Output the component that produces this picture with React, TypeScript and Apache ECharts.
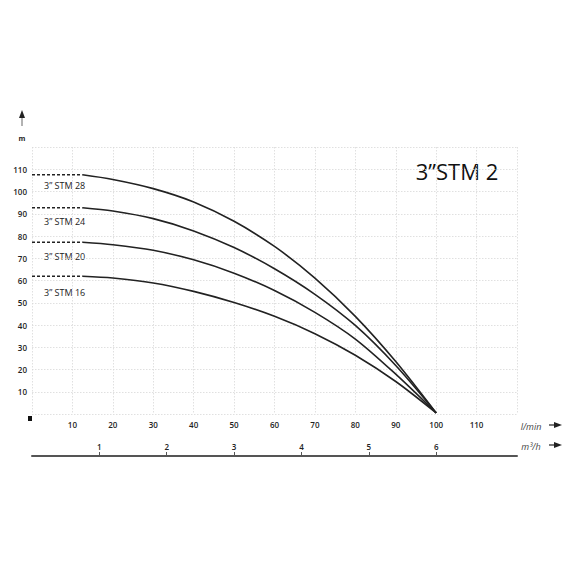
import React, { useEffect, useRef } from "react";
import * as echarts from "echarts";

const flowLmin = [12.5, 20, 30, 40, 50, 60, 70, 80, 90, 100];
const stm28 = [107.5, 105.4, 101.3, 95.3, 86.6, 75.3, 61.1, 43.9, 23.6, 0.5];
const stm24 = [92.7, 91.2, 87.8, 82.3, 74.8, 65.3, 53.8, 39.8, 21.8, 0.5];
const stm20 = [77.2, 76.1, 73.6, 69.3, 63.3, 55.5, 45.7, 33.7, 17.9, 0.5];
const stm16 = [61.9, 61.1, 58.9, 55.1, 50.1, 43.9, 36.1, 26.4, 14.6, 0.5];
const curveNames = ["3\u201d STM 28", "3\u201d STM 24", "3\u201d STM 20", "3\u201d STM 16"];
const flowTicks = [10, 20, 30, 40, 50, 60, 70, 80, 90, 100, 110];
const headTicks = [10, 20, 30, 40, 50, 60, 70, 80, 90, 100, 110];
const m3hTicks = [1, 2, 3, 4, 5, 6];
const title = "3\u201dSTM 2";

export default function App() {
  const ref = useRef<HTMLDivElement>(null);
  useEffect(() => {
    if (!ref.current) return;
    const chart = echarts.init(ref.current, null, { renderer: "svg" });
    const curves = [stm28, stm24, stm20, stm16];
    const lineColor = "#222";
    const font = "Open Sans";
    const series: any[] = [];
    curves.forEach((c, i) => {
      series.push({
        type: "line",
        name: curveNames[i],
        data: flowLmin.map((q, k) => [q, c[k]]),
        smooth: 0.3,
        showSymbol: false,
        symbol: "none",
        lineStyle: { color: lineColor, width: 1.6 },
        xAxisIndex: 0,
        yAxisIndex: 0,
      });
      series.push({
        type: "line",
        data: [[0, c[0]], [flowLmin[0], c[0]]],
        showSymbol: false,
        symbol: "none",
        lineStyle: { color: lineColor, width: 1.4, type: [3, 2] },
        xAxisIndex: 0,
        yAxisIndex: 0,
      });
    });
    const labelYs = [185, 221, 256, 292];
    const graphic: any[] = [
      {
        type: "text",
        x: 457,
        y: 171,
        style: { text: title, font: `22px "${font}"`, fill: "#111", align: "center", verticalAlign: "middle" },
      },
      ...curveNames.map((n, i) => ({
        type: "text",
        x: 44,
        y: labelYs[i],
        style: { text: n, font: `9px "${font}"`, fill: "#222", align: "left", verticalAlign: "middle" },
      })),
      { type: "rect", shape: { x: 28, y: 416, width: 4, height: 5 }, style: { fill: "#111" } },
      { type: "text", x: 22, y: 138, style: { text: "m", font: `bold 7px "${font}"`, fill: "#222", align: "center", verticalAlign: "middle" } },
      { type: "line", shape: { x1: 22, y1: 116, x2: 22, y2: 126 }, style: { stroke: "#666", lineWidth: 1 } },
      { type: "polygon", shape: { points: [[22, 110], [19, 118], [25, 118]] }, style: { fill: "#222" } },
      { type: "text", x: 531, y: 426, style: { text: "l/min", font: `italic 9px "${font}"`, fill: "#444", align: "center", verticalAlign: "middle" } },
      { type: "line", shape: { x1: 549, y1: 425, x2: 556, y2: 425 }, style: { stroke: "#222", lineWidth: 1.2 } },
      { type: "polygon", shape: { points: [[562, 425], [554, 422], [554, 428]] }, style: { fill: "#222" } },
      { type: "text", x: 531, y: 446, style: { text: "m\u00b3/h", font: `italic 9px "${font}"`, fill: "#444", align: "center", verticalAlign: "middle" } },
      { type: "line", shape: { x1: 549, y1: 445, x2: 556, y2: 445 }, style: { stroke: "#222", lineWidth: 1.2 } },
      { type: "polygon", shape: { points: [[562, 445], [554, 442], [554, 448]] }, style: { fill: "#222" } },
    ];
    const axisLabelStyle = { color: "#222", fontSize: 8, fontWeight: 600, fontFamily: font };
    chart.setOption({
      animation: false,
      backgroundColor: "#fff",
      grid: { left: 32, top: 147, width: 485, height: 267, containLabel: false },
      xAxis: [
        {
          type: "value",
          min: 0,
          max: 120,
          interval: 10,
          position: "bottom",
          axisLine: { show: false },
          axisTick: { show: false },
          axisLabel: { ...axisLabelStyle, margin: 6, customValues: flowTicks },
          splitLine: { show: true, lineStyle: { color: "#d8d8d8", type: [1.5, 1.5], width: 0.8 } },
        },
        {
          type: "value",
          min: 0,
          max: 7.2,
          position: "bottom",
          offset: 42,
          axisLine: { show: true, lineStyle: { color: "#555", width: 2 } },
          axisTick: { show: true, inside: true, length: 4, lineStyle: { color: "#555", width: 1 }, customValues: m3hTicks },
          axisLabel: { ...axisLabelStyle, inside: true, margin: 6, customValues: m3hTicks },
          splitLine: { show: false },
        },
      ],
      yAxis: {
        type: "value",
        min: 0,
        max: 120,
        interval: 10,
        axisLine: { show: false },
        axisTick: { show: false },
        axisLabel: { ...axisLabelStyle, margin: 5, customValues: headTicks },
        splitLine: { show: true, lineStyle: { color: "#d8d8d8", type: [1.5, 1.5], width: 0.8 } },
      },
      series,
      graphic,
    });
    return () => chart.dispose();
  }, []);
  return <div ref={ref} style={{ position: "absolute", left: 0, top: 0, width: 570, height: 570 }} />;
}
